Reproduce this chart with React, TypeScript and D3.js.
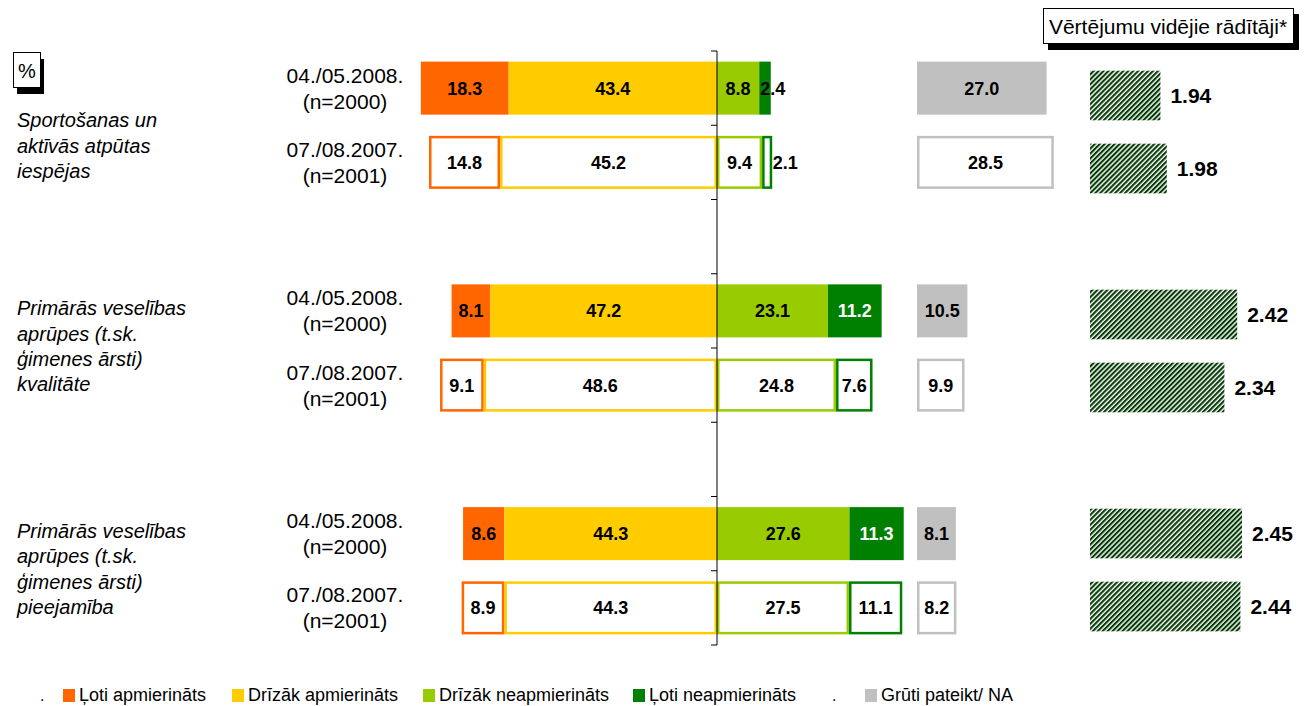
import React from "react";
import * as d3 from "d3";

const categories: string[][] = [
  ["Sportošanas un", "aktīvās atpūtas", "iespējas"],
  ["Primārās veselības", "aprūpes (t.sk.", "ģimenes ārsti)", "kvalitāte"],
  ["Primārās veselības", "aprūpes (t.sk.", "ģimenes ārsti)", "pieejamība"],
];
const waves = ["04./05.2008.", "07./08.2007."];
const samples = ["(n=2000)", "(n=2001)"];

const veryS = [[18.3, 14.8], [8.1, 9.1], [8.6, 8.9]];
const ratherS = [[43.4, 45.2], [47.2, 48.6], [44.3, 44.3]];
const ratherD = [[8.8, 9.4], [23.1, 24.8], [27.6, 27.5]];
const veryD = [[2.4, 2.1], [11.2, 7.6], [11.3, 11.1]];
const naVals = [[27.0, 28.5], [10.5, 9.9], [8.1, 8.2]];
const means = [[1.94, 1.98], [2.42, 2.34], [2.45, 2.44]];

const legendLabels = ["Ļoti apmierināts", "Drīzāk apmierināts", "Drīzāk neapmierināts", "Ļoti neapmierināts", "Grūti pateikt/ NA"];
const colors = ["#FF6600", "#FFCC00", "#99CC00", "#008000", "#C0C0C0"];
const meanTitle = "Vērtējumu vidējie rādītāji*";

const FONT = "'Liberation Sans', Arial, sans-serif";

export default function App() {
  const W = 1305, H = 706;
  const x = d3.scaleLinear().domain([-100, 100]).range([237, 1197]);
  const xNA = d3.scaleLinear().domain([0, 100]).range([917, 1397]);
  const xM = d3.scaleLinear().domain([1.5, 2.5]).range([1090, 1250]);
  const slots = d3.range(8);
  const y = d3.scaleBand<number>().domain(slots).range([51, 645]).paddingInner(0.286).paddingOuter(0.143);
  const yM = d3.scaleBand<number>().domain(slots).range([59, 643]).paddingInner(0.32).paddingOuter(0.16);
  const step = y.step();
  const bh = y.bandwidth();

  const rows: any[] = [];
  categories.forEach((_, g) => {
    [0, 1].forEach((r) => {
      rows.push({ g, r, slot: g * 3 + r });
    });
  });

  const barEls: any[] = [];
  rows.forEach(({ g, r, slot }) => {
    const y0 = y(slot)!;
    const filled = r === 0;
    const vs = veryS[g][r], rs = ratherS[g][r], rd = ratherD[g][r], vd = veryD[g][r];
    const segs = [
      { a: -(vs + rs), b: -rs, v: vs, c: 0 },
      { a: -rs, b: 0, v: rs, c: 1 },
      { a: 0, b: rd, v: rd, c: 2 },
      { a: rd, b: rd + vd, v: vd, c: 3 },
    ];
    segs.forEach((s, i) => {
      const x0 = x(s.a), x1 = x(s.b);
      const sw = 2.5;
      barEls.push(
        filled ? (
          <rect key={`b${slot}-${i}`} x={x0} y={y0} width={x1 - x0} height={bh} fill={colors[s.c]} />
        ) : (
          <rect key={`b${slot}-${i}`} x={x0 + sw / 2} y={y0 + sw / 2} width={x1 - x0 - sw} height={bh - sw} fill="#fff" stroke={colors[s.c]} strokeWidth={sw} />
        )
      );
      const small = s.v < 4;
      const lx = small ? x1 + (filled ? 2 : 13) : (x0 + x1) / 2;
      const white = filled && s.c === 3 && !small;
      barEls.push(
        <text key={`t${slot}-${i}`} x={lx} y={y0 + bh / 2} dy="0.36em" textAnchor="middle" fontSize={18} fontWeight="bold" fill={white ? "#fff" : "#000"}>
          {s.v.toFixed(1)}
        </text>
      );
    });
    // NA
    const nv = naVals[g][r];
    const nx0 = xNA(0), nx1 = xNA(nv);
    barEls.push(
      filled ? (
        <rect key={`na${slot}`} x={nx0} y={y0} width={nx1 - nx0} height={bh} fill={colors[4]} />
      ) : (
        <rect key={`na${slot}`} x={nx0 + 1.25} y={y0 + 1.25} width={nx1 - nx0 - 2.5} height={bh - 2.5} fill="#fff" stroke={colors[4]} strokeWidth={2.5} />
      )
    );
    barEls.push(
      <text key={`nat${slot}`} x={(nx0 + nx1) / 2} y={y0 + bh / 2} dy="0.36em" textAnchor="middle" fontSize={18} fontWeight="bold">
        {nv.toFixed(1)}
      </text>
    );
    // mean
    const m = means[g][r];
    const my0 = yM(slot)!;
    const mbh = yM.bandwidth();
    barEls.push(<rect key={`m${slot}`} x={xM(1.5)} y={my0} width={xM(m) - xM(1.5)} height={mbh} fill="url(#hatch)" />);
    barEls.push(
      <text key={`mt${slot}`} x={xM(m) + 10} y={my0 + mbh / 2} dy="0.36em" fontSize={21} fontWeight="bold">
        {m.toFixed(2)}
      </text>
    );
    // wave labels
    const cy = y0 + bh / 2;
    barEls.push(
      <text key={`w${slot}`} x={345} y={cy - 13} dy="0.36em" textAnchor="middle" fontSize={21}>
        {waves[r]}
      </text>
    );
    barEls.push(
      <text key={`n${slot}`} x={345} y={cy + 13} dy="0.36em" textAnchor="middle" fontSize={21}>
        {samples[r]}
      </text>
    );
  });

  const lh = 25.3;
  const catEls = categories.map((lines, g) => {
    const mid = (y(g * 3)! + y(g * 3 + 1)! + bh) / 2 - 2;
    const start = Math.max(120, mid - ((lines.length - 1) * lh) / 2);
    return lines.map((t, i) => (
      <text key={`c${g}-${i}`} x={17} y={start + i * lh} dy="0.36em" fontSize={20} fontStyle="italic">
        {t}
      </text>
    ));
  });

  const ticks = d3.range(9).map((k) => 51 + k * step);

  const legendX = [63, 232, 423, 633, 865];

  return (
    <svg width={W} height={H} style={{ position: "absolute", left: 0, top: 0, background: "#fff" }} fontFamily={FONT}>
      <defs>
        <pattern id="hatch" patternUnits="userSpaceOnUse" width={3.5} height={10} patternTransform="rotate(45)">
          <rect x={0} y={0} width={3.5} height={10} fill="#fff" />
          <rect x={0} y={0} width={2.1} height={10} fill="#063A06" />
        </pattern>
      </defs>
      {/* % box */}
      <rect x={17} y={59} width={27} height={35} fill="#000" />
      <rect x={13.5} y={52.5} width={27} height={35} fill="#fff" stroke="#000" strokeWidth={1} />
      <text x={27} y={71} dy="0.36em" textAnchor="middle" fontSize={20}>%</text>
      {/* title box */}
      <rect x={1048} y={14} width={251} height={36} fill="#000" />
      <rect x={1043.5} y={8.5} width={250} height={35} fill="#fff" stroke="#000" strokeWidth={1} />
      <text x={1168} y={26} dy="0.36em" textAnchor="middle" fontSize={21}>{meanTitle}</text>
      {catEls}
      {barEls}
      {/* axis */}
      <line x1={x(0)} x2={x(0)} y1={ticks[0]} y2={ticks[8]} stroke="#000" strokeWidth={1} />
      {ticks.map((t, i) => (
        <line key={`tk${i}`} x1={x(0) - 6} x2={x(0)} y1={t} y2={t} stroke="#000" strokeWidth={1} />
      ))}
      {/* legend */}
      <text x={40} y={695} dy="0.36em" fontSize={16}>.</text>
      <text x={832} y={695} dy="0.36em" fontSize={16}>.</text>
      {legendLabels.map((l, i) => (
        <g key={`lg${i}`}>
          <rect x={legendX[i]} y={689} width={12} height={13} fill={colors[i]} />
          <text x={legendX[i] + 16} y={695} dy="0.36em" fontSize={18}>{l}</text>
        </g>
      ))}
    </svg>
  );
}
